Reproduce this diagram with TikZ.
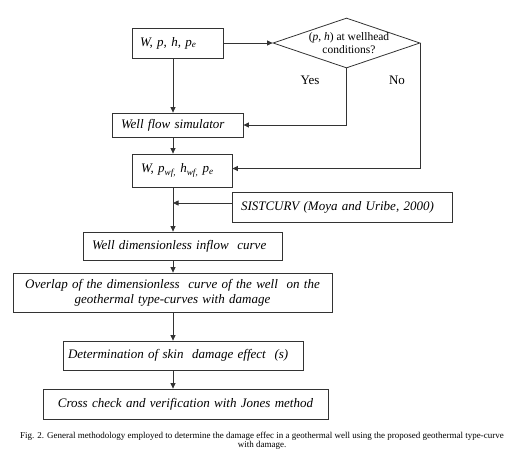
\documentclass[tikz,border=0pt]{standalone}
\usepackage{fontspec}
\setmainfont{Liberation Serif}
\usetikzlibrary{arrows.meta,shapes.geometric}
\begin{document}
\begin{tikzpicture}[x=1pt,y=-1pt,
  line width=0.8pt,
  box/.style={draw=black!80, rectangle, inner ysep=0pt, font=\fontsize{13}{15}\selectfont\itshape},
  arr/.style={draw=black!80, -{Triangle[length=5.5pt,width=5pt]}},
  ln/.style={draw=black!80}]
\useasboundingbox (0,0) rectangle (529,464);
\coordinate (mx) at (173,0);
% boxes
\node[box, minimum width=91pt, minimum height=30pt, inner xsep=8pt, text width=75pt, align=left] (b1) at (177.5,43) {W, p, h, p\textsubscript{e}};
\node[draw=black!80, diamond, minimum width=147pt, minimum height=50pt, inner sep=0pt] (dia) at (346.5,43) {};
\node[font=\fontsize{11.5}{13}\selectfont, align=center, inner sep=0pt] (diat) at (349,43) {(\textit{p}, \textit{h}) at wellhead\\conditions?};
\node[font=\fontsize{13}{15}\selectfont, inner sep=0pt] (yes) at (310,80) {Yes};
\node[font=\fontsize{13}{15}\selectfont, inner sep=0pt] (no) at (397,80) {No};
\node[box, minimum width=131pt, minimum height=24pt, inner xsep=9pt, text width=113pt, align=left] (wfs) at (177.5,125) {Well flow simulator};
\node[box, minimum width=100pt, minimum height=33pt, inner xsep=9pt, text width=82pt, align=left] (b3) at (182,170.5) {W, p\textsubscript{wf,} h\textsubscript{wf,} p\textsubscript{e}};
\node[box, minimum width=220pt, minimum height=30pt, inner xsep=9pt, text width=202pt, align=left] (sist) at (342,207) {SISTCURV (Moya and Uribe, 2000)};
\node[box, minimum width=199pt, minimum height=28pt, inner xsep=9pt, text width=181pt, align=left] (b4) at (182.5,246) {Well dimensionless inflow\ \ curve};
\node[box, minimum width=319pt, minimum height=39pt, inner xsep=5pt, text width=309pt, align=center] (b5) at (172.5,292.5) {Overlap of the dimensionless\ \ curve of the well\ \ on the\\geothermal type-curves with damage};
\node[box, minimum width=240pt, minimum height=29pt, inner xsep=5pt, text width=230pt, align=left] (b6) at (183,355.5) {Determination of skin\ \ damage effect\ \ (s)};
\node[box, minimum width=285pt, minimum height=30pt, inner xsep=5pt, text width=275pt, align=center] (b7) at (185.5,404) {Cross check and verification with Jones method};
\node[font=\fontsize{9}{9.5}\selectfont, align=center, inner sep=0pt] (cap) at (262,441) {Fig. 2. General methodology employed to determine the damage effec in a geothermal well using the proposed geothermal type-curve\\with damage.};
% connectors
\draw[arr] (b1.east) -- (dia.west);
\draw[arr] (b1.south -| mx) -- (wfs.north -| mx);
\draw[arr] (dia.south) |- (wfs.east);
\draw[arr] (wfs.south -| mx) -- (b3.north -| mx);
\draw[arr] (dia.east) |- ([yshift=2pt]b3.east);
\draw[arr] (b3.south -| mx) -- (b4.north -| mx);
\draw[arr] ([yshift=4pt]sist.west) -- ([yshift=4pt]sist.west -| mx);
\draw[arr] (b4.south -| mx) -- (b5.north -| mx);
\draw[arr] (b5.south -| mx) -- (b6.north -| mx);
\draw[arr] (b6.south -| mx) -- (b7.north -| mx);
\end{tikzpicture}
\end{document}
